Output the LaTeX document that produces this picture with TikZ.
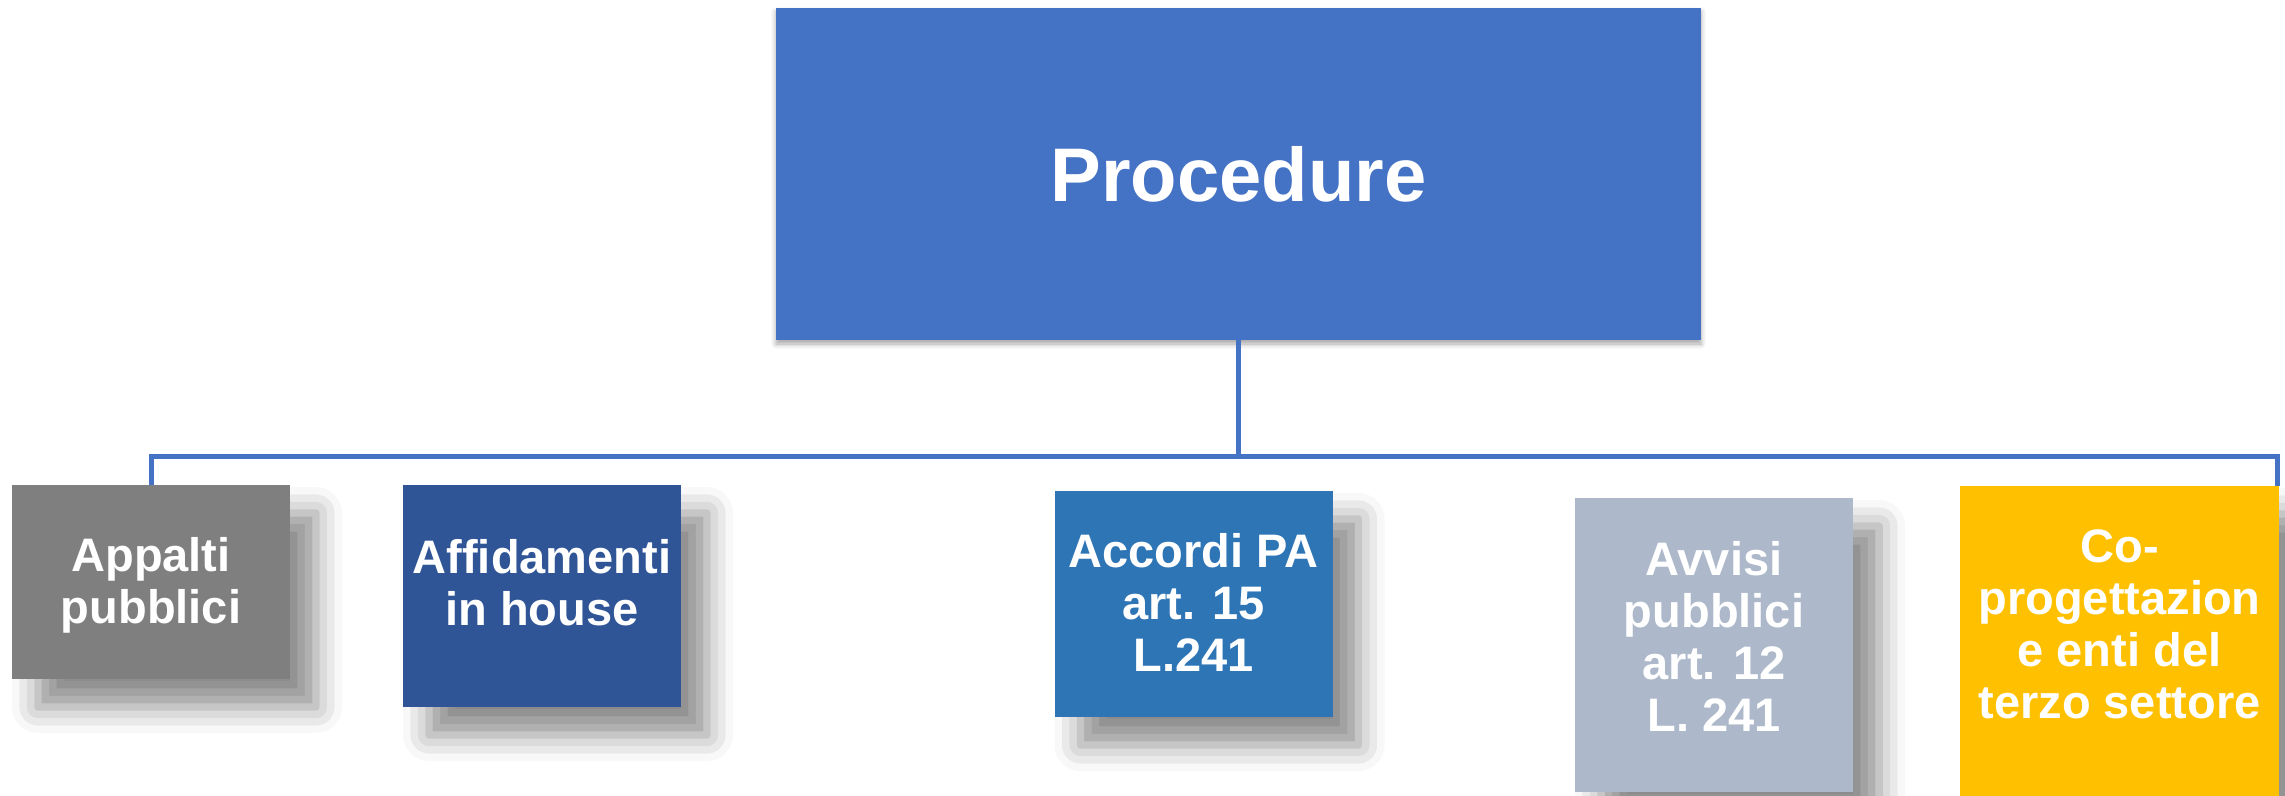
\documentclass[tikz,border=0pt]{standalone}
\usepackage{fontspec}
\setmainfont{Liberation Sans}
\usetikzlibrary{positioning, shadows.blur}

\definecolor{rootblue}{HTML}{4472C4}
\definecolor{appgray}{HTML}{7F7F7F}
\definecolor{housedark}{HTML}{2F5597}
\definecolor{accblue}{HTML}{2E75B6}
\definecolor{avvgray}{HTML}{ADB9CA}
\definecolor{coyellow}{HTML}{FFC000}

\begin{document}
\begin{tikzpicture}[
    x=1pt, y=-1pt,
    root/.style={rectangle, fill=rootblue, inner sep=0pt, minimum width=925pt, minimum height=332pt,
        text=white, font=\fontsize{76}{90}\selectfont\bfseries,
        blur shadow={shadow xshift=0pt, shadow yshift=-4pt, shadow blur radius=5pt, shadow opacity=35}},
    box/.style={rectangle, inner sep=0pt, minimum width=278pt,
        blur shadow={shadow xshift=26pt, shadow yshift=-28pt, shadow blur radius=26pt, shadow opacity=45}},
    boxtext/.style={text=white, align=center, font=\fontsize{47}{52}\selectfont\bfseries},
    bus/.style={draw=rootblue, line width=5pt}
]
    \useasboundingbox (0,0) rectangle (2285,795);

    % Root
    \node[root] (procedure) at (1238.5,174) {Procedure};

    % Children
    \node[box, fill=appgray, minimum height=194pt,
        label={[boxtext, yshift=-3.5pt]center:{Appalti\\pubblici}}] (appalti) at (151,582) {};
    \node[box, fill=housedark, minimum height=222pt,
        label={[boxtext, yshift=13pt]center:{Affidamenti\\in house}}] (inhouse) at (542,596) {};
    \node[box, fill=accblue, minimum height=226pt,
        label={[boxtext, yshift=2pt]center:{Accordi PA\\art. 15\\L.241}}] (accordi) at (1193.5,604) {};
    \node[box, fill=avvgray, minimum height=294pt,
        label={[boxtext, yshift=8.5pt]center:{Avvisi\\pubblici\\art. 12\\L. 241}}] (avvisi) at (1714,645) {};
    \node[box, fill=coyellow, minimum width=319pt, minimum height=314pt,
        label={[boxtext, yshift=19pt]center:{Co-\\progettazion\\e enti del\\terzo settore}}] (coprog) at (2119.5,643) {};

    % Connectors
    \coordinate (busR) at (2277,456);
    \draw[bus] (procedure.south) -- (procedure.south |- busR);
    \draw[bus] (appalti.north) |- (busR) -- (busR |- coprog.north);
\end{tikzpicture}
\end{document}
